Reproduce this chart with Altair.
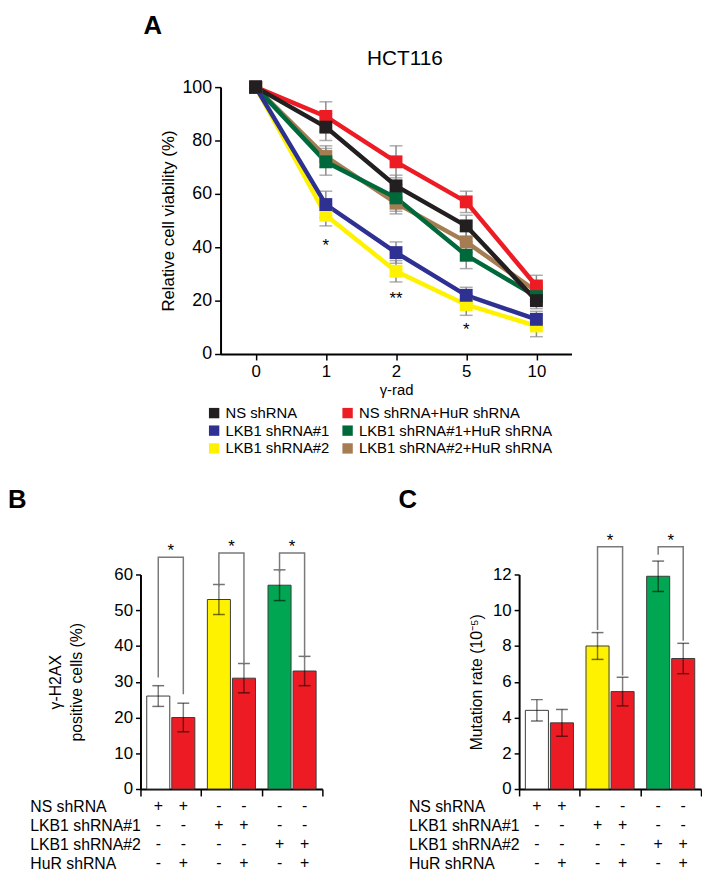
import altair as alt
import pandas as pd

# ---------------- Panel A data ----------------
doses = ["0", "1", "2", "5", "10"]
# legend order (filled column by column: left column first, then right column)
series_names = ["NS shRNA", "LKB1 shRNA#1", "LKB1 shRNA#2",
                "NS shRNA+HuR shRNA", "LKB1 shRNA#1+HuR shRNA", "LKB1 shRNA#2+HuR shRNA"]
series_colors = ["#231f20", "#2e3192", "#fff200", "#ed1c24", "#00693c", "#a67c52"]

ns = [100, 85, 63, 48, 20]
ns_hur = [100, 89, 72, 57, 25.5]
lkb1 = [100, 56, 38, 22, 13]
lkb1_hur = [100, 72, 58.5, 37, 21.5]
lkb2 = [100, 52, 31, 18.5, 10.5]
lkb2_hur = [100, 74, 56.5, 42, 23.5]

ns_err = [0, 5, 4, 4, 3]
ns_hur_err = [0, 5.5, 6, 4, 4]
lkb1_err = [0, 5, 4, 3, 3]
lkb1_hur_err = [0, 5, 5, 5, 3]
lkb2_err = [0, 4, 4, 4, 4]
lkb2_hur_err = [0, 4, 4, 4, 3]

star_doses = ["1", "2", "5"]
star_vals = [38.7, 18.9, 7.1]
star_text = ["*", "**", "*"]

# ---------------- Panel B / C data ----------------
groups = ["NS", "LKB1#1", "LKB1#2"]
hur_levels = ["-", "+"]
bar_groups = ["NS", "NS", "LKB1#1", "LKB1#1", "LKB1#2", "LKB1#2"]
bar_hur = ["-", "+", "-", "+", "-", "+"]
bar_conds = ["c1", "c2", "c3", "c4", "c5", "c6"]
bar_colors = ["#ffffff", "#ed1c24", "#fff200", "#ed1c24", "#00a651", "#ed1c24"]

b_vals = [26, 20, 53, 31, 57, 33]
b_err = [2.9, 4, 4.2, 4.1, 4.3, 4.1]
c_vals = [4.4, 3.7, 8.0, 5.45, 11.9, 7.3]
c_err = [0.6, 0.75, 0.75, 0.8, 0.85, 0.85]

# brackets: group, top, left-leg bottom, right-leg bottom
b_br_top = [64.8, 66, 66]
b_br_left = [31.2, 56.7, 60.6]
b_br_right = [26.5, 34.8, 36.8]
c_br_groups = ["LKB1#1", "LKB1#2"]
c_br_top = [13.55, 13.55]
c_br_left = [8.9, 13.1]
c_br_right = [6.35, 8.3]

table_rows = ["NS shRNA", "LKB1 shRNA#1", "LKB1 shRNA#2", "HuR shRNA"]
table_signs = [
    ["+", "+", "-", "-", "-", "-"],
    ["-", "-", "+", "+", "-", "-"],
    ["-", "-", "-", "-", "+", "+"],
    ["-", "+", "-", "+", "-", "+"],
]

FONT = "Liberation Sans"

# ---------------- Panel A ----------------
draw_order = [
    ("LKB1 shRNA#2", lkb2, lkb2_err),
    ("LKB1 shRNA#2+HuR shRNA", lkb2_hur, lkb2_hur_err),
    ("NS shRNA+HuR shRNA", ns_hur, ns_hur_err),
    ("LKB1 shRNA#1+HuR shRNA", lkb1_hur, lkb1_hur_err),
    ("LKB1 shRNA#1", lkb1, lkb1_err),
    ("NS shRNA", ns, ns_err),
]
rowsA = []
for name, vals, errs in draw_order:
    for i, (d, v, e) in enumerate(zip(doses, vals, errs)):
        rowsA.append(dict(series=name, dose=d, idx=i, value=v, err=e, lo=v - e, hi=v + e))
dfA = pd.DataFrame(rowsA)

W_A, H_A = 355, 270
xA = alt.X("dose:O", sort=doses, scale=alt.Scale(type="point", padding=0.5),
           axis=alt.Axis(title="γ-rad", labelAngle=0, labelFontSize=17, titleFontSize=15,
                         labelPadding=4, titlePadding=3))
yscA = alt.Scale(domain=[0, 100], nice=False)
yaxA = alt.Axis(title="Relative cell viability (%)", values=[0, 20, 40, 60, 80, 100],
                labelFontSize=18, titleFontSize=17, titlePadding=5, labelPadding=3)
yA = alt.Y("value:Q", scale=yscA, axis=yaxA)
colScale = alt.Scale(domain=series_names, range=series_colors)
legA = alt.Legend(title=None, orient="none", legendX=-14, legendY=322,
                  columns=2, symbolType="square", symbolSize=110,
                  symbolStrokeWidth=0, labelFontSize=15, labelLimit=400,
                  columnPadding=10, rowPadding=2, labelOffset=4,
                  padding=0, labelColor="#000")

baseA = alt.Chart(dfA)
errA = baseA.transform_filter("datum.err > 0")
err_rule = errA.mark_rule(color="#8a8a8a", strokeWidth=1.5).encode(
    x=xA, y=alt.Y("lo:Q", scale=yscA, axis=yaxA), y2="hi:Q")
err_lo = errA.mark_tick(color="#8a8a8a", size=13, thickness=1.5).encode(
    x=xA, y=alt.Y("lo:Q", scale=yscA, axis=yaxA))
err_hi = errA.mark_tick(color="#8a8a8a", size=13, thickness=1.5).encode(
    x=xA, y=alt.Y("hi:Q", scale=yscA, axis=yaxA))
ptsA = baseA.mark_point(shape="square", filled=True, size=170, opacity=1).encode(
    x=xA, y=yA, color=alt.Color("series:N", scale=colScale, legend=legA))
linesA = baseA.mark_line(strokeWidth=4.5).encode(
    x=xA, y=yA, order=alt.Order("idx:Q"),
    color=alt.Color("series:N", scale=colScale, legend=legA))
starsA = alt.Chart(pd.DataFrame({"dose": star_doses, "value": star_vals, "t": star_text})).mark_text(
    fontSize=17, baseline="alphabetic", color="#000").encode(x=xA, y=yA, text="t:N")
annA = alt.Chart(pd.DataFrame({"t": ["A"]})).mark_text(
    fontSize=26, fontWeight="bold", align="left", baseline="top", color="#000").encode(
    x=alt.value(-78), y=alt.value(-75), text="t:N")
titleA = alt.Chart(pd.DataFrame({"t": ["HCT116"]})).mark_text(
    fontSize=21, align="center", baseline="alphabetic", color="#000").encode(
    x=alt.value(W_A / 2 + 9), y=alt.value(-22), text="t:N")

chartA = alt.layer(err_rule, err_lo, err_hi, linesA, ptsA, starsA, annA, titleA).properties(
    width=W_A, height=H_A)

spacer = alt.Chart(pd.DataFrame({"v": [0]})).mark_point(opacity=0).encode(
    x=alt.value(0), y=alt.value(0)).properties(width=1, height=10)

top = alt.hconcat(spacer, chartA, spacing=0).resolve_legend(color="independent").resolve_scale(
    color="independent")


# ---------------- Panels B / C ----------------
def bar_panel(vals, errs, dom, ticks, ytitle, br_groups, br_top, br_left, br_right,
              letter, letter_x, title_pad):
    df = pd.DataFrame(dict(group=bar_groups, hur=bar_hur, cond=bar_conds, value=vals))
    df["lo"] = [v - e for v, e in zip(vals, errs)]
    df["hi"] = [v + e for v, e in zip(vals, errs)]
    x = alt.X("group:N", sort=groups, scale=alt.Scale(paddingInner=0, paddingOuter=0),
              axis=alt.Axis(labels=False, title=None, tickBand="extent", tickSize=7))
    xo = alt.XOffset("hur:N", sort=hur_levels,
                     scale=alt.Scale(paddingInner=0.08, paddingOuter=0.25))
    ysc = alt.Scale(domain=dom, nice=False)
    yax = alt.Axis(title=ytitle, values=ticks, labelFontSize=17, titleFontSize=16,
                   titlePadding=title_pad, labelPadding=3, tickSize=5,
                   titleLineHeight=21)

    def Y(field):
        return alt.Y(field, scale=ysc, axis=yax)

    base = alt.Chart(df)
    bars = base.mark_bar(stroke="#3c3c3c", strokeWidth=1).encode(
        x=x, xOffset=xo, y=Y("value:Q"),
        fill=alt.Fill("cond:N", scale=alt.Scale(domain=bar_conds, range=bar_colors), legend=None))
    erule = base.mark_rule(color="#000", opacity=0.5, strokeWidth=1.5).encode(
        x=x, xOffset=xo, y=Y("lo:Q"), y2="hi:Q")
    ecap1 = base.mark_tick(color="#000", opacity=0.55, size=12, thickness=1.5).encode(
        x=x, xOffset=xo, y=Y("lo:Q"))
    ecap2 = base.mark_tick(color="#000", opacity=0.55, size=12, thickness=1.5).encode(
        x=x, xOffset=xo, y=Y("hi:Q"))

    brow = []
    for k, (g, t, l, r) in enumerate(zip(br_groups, br_top, br_left, br_right)):
        brow += [dict(b=k, o=0, group=g, hur="-", value=l),
                 dict(b=k, o=1, group=g, hur="-", value=t),
                 dict(b=k, o=2, group=g, hur="+", value=t),
                 dict(b=k, o=3, group=g, hur="+", value=r)]
    brk = alt.Chart(pd.DataFrame(brow)).mark_line(color="#7a7a7a", strokeWidth=1.5).encode(
        x=x, xOffset=xo, y=Y("value:Q"), detail="b:N", order="o:Q")
    stars = alt.Chart(pd.DataFrame(dict(group=br_groups, value=br_top, t=["*"] * len(br_groups)))).mark_text(
        fontSize=17, baseline="alphabetic", color="#000", dy=-1).encode(
        x=x, y=Y("value:Q"), text="t:N")
    lab = alt.Chart(pd.DataFrame({"t": [letter]})).mark_text(
        fontSize=26, fontWeight="bold", align="left", baseline="top", color="#000").encode(
        x=alt.value(letter_x), y=alt.value(-88), text="t:N")
    bar_chart = alt.layer(bars, erule, ecap1, ecap2, brk, stars, lab).properties(width=184, height=217)

    trow = []
    for r, signs in zip(table_rows, table_signs):
        for g, h, s in zip(bar_groups, bar_hur, signs):
            trow.append(dict(row=r, group=g, hur=h, sign=s))
    table = alt.Chart(pd.DataFrame(trow)).mark_text(fontSize=16, color="#000").encode(
        x=alt.X("group:N", sort=groups, scale=alt.Scale(paddingInner=0, paddingOuter=0), axis=None),
        xOffset=xo,
        y=alt.Y("row:N", sort=table_rows,
                axis=alt.Axis(title=None, domain=False, ticks=False, labelAlign="left",
                              labelPadding=112, labelFontSize=16, labelColor="#000")),
        text="sign:N").properties(width=184, height=77)
    return alt.vconcat(bar_chart, table, spacing=0)


chartB = bar_panel(b_vals, b_err, [0, 60], [0, 10, 20, 30, 40, 50, 60],
                   ["γ-H2AX", "positive cells (%)"], groups, b_br_top, b_br_left, b_br_right,
                   "B", -134, 30)
chartC = bar_panel(c_vals, c_err, [0, 12], [0, 2, 4, 6, 8, 10, 12],
                   "Mutation rate (10⁻⁵)", c_br_groups, c_br_top, c_br_left, c_br_right,
                   "C", -122, 8)

bottom = alt.hconcat(chartB, chartC, spacing=76)

chart = alt.vconcat(top, bottom, spacing=31).resolve_legend(color="independent").resolve_scale(
    color="independent").properties(
    padding={"left": 0, "top": 0, "right": 0, "bottom": 0}
).configure(font=FONT).configure_view(stroke=None).configure_axis(
    grid=False, domainColor="#000", domainWidth=2, tickColor="#000", tickWidth=1.5,
    tickSize=6, labelColor="#000", titleColor="#000", titleFontWeight="normal",
    labelFont=FONT, titleFont=FONT)

chart.save("out.html", embed_options={"renderer": "svg", "actions": False})
